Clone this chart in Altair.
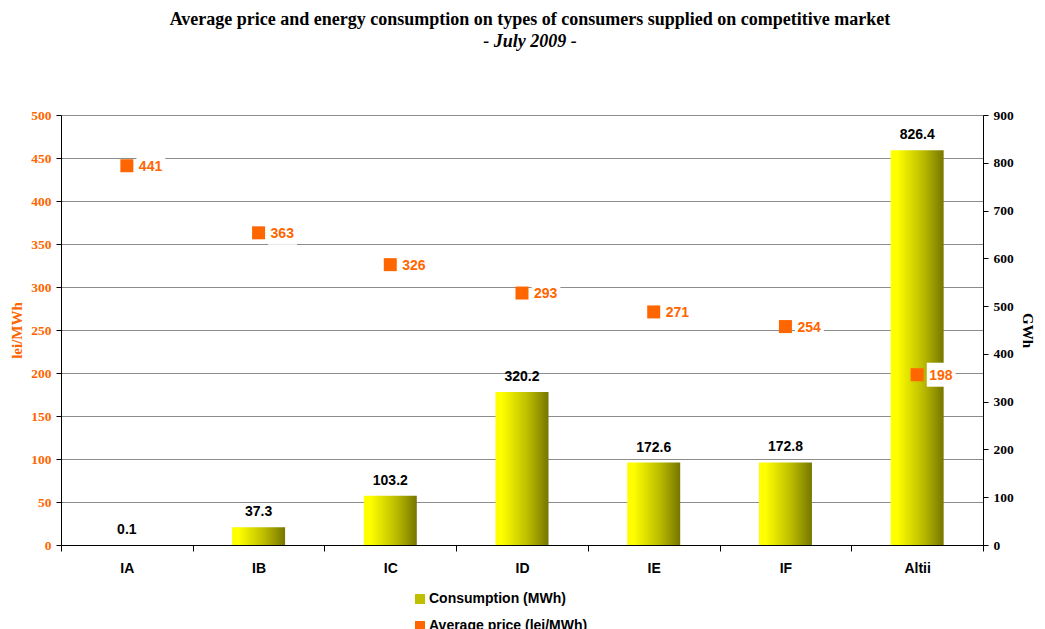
import altair as alt
import pandas as pd

categories = ["IA", "IB", "IC", "ID", "IE", "IF", "Altii"]
consumption = [0.1, 37.3, 103.2, 320.2, 172.6, 172.8, 826.4]
price = [441, 363, 326, 293, 271, 254, 198]
series_names = ["Consumption (MWh)", "Average price (lei/MWh)"]

df = pd.DataFrame({
    "cat": categories,
    "cons": consumption,
    "price": price,
    "series": [series_names[1]] * len(categories),
})

ORANGE = "#FF6600"
x_enc = alt.X("cat:N", sort=categories, title=None,
              scale=alt.Scale(paddingInner=0, paddingOuter=0),
              axis=alt.Axis(labelAngle=0, labelFont="Liberation Sans", labelFontWeight="bold",
                            labelFontSize=14, labelColor="black", domainColor="black",
                            tickColor="black", tickSize=6, tickBand="extent",
                            labelPadding=10, grid=False))

y_right = alt.Y("cons:Q", title="GWh",
                scale=alt.Scale(domain=[0, 900], nice=False),
                axis=alt.Axis(orient="right", values=list(range(0, 901, 100)), grid=False,
                              labelFont="Liberation Serif", labelFontWeight="bold", labelFontSize=13.5,
                              labelColor="black", titleFont="Liberation Serif", titleFontWeight="bold",
                              titleFontSize=15, titleColor="black", domainColor="black",
                              tickColor="black", tickSize=5, labelPadding=5, titlePadding=6))

gradient = alt.LinearGradient(
    gradient="linear",
    stops=[alt.GradientStop(offset=0, color="#FFFF00"),
           alt.GradientStop(offset=0.12, color="#FFFF00"),
           alt.GradientStop(offset=0.6, color="#BDBD00"),
           alt.GradientStop(offset=1, color="#767600")],
    x1=0, x2=1, y1=0, y2=0)

bars = alt.Chart(df).mark_bar(color=gradient, size=53).encode(x=x_enc, y=y_right)
bar_labels = alt.Chart(df).mark_text(
    font="Liberation Sans", fontWeight="bold", fontSize=14, color="black",
    baseline="bottom", dy=-8).encode(x=x_enc, y=y_right, text=alt.Text("cons:Q", format=".1f"))

y_left = alt.Y("price:Q", title="lei/MWh",
               scale=alt.Scale(domain=[0, 500], nice=False),
               axis=alt.Axis(orient="left", values=list(range(0, 501, 50)), grid=True,
                             gridColor="#8C8C8C", gridWidth=1,
                             labelFont="Liberation Serif", labelFontWeight="bold", labelFontSize=13.5,
                             labelColor=ORANGE, titleFont="Liberation Serif", titleFontWeight="bold",
                             titleFontSize=15, titleColor=ORANGE, domainColor="black",
                             tickColor="black", tickSize=5, labelPadding=5, titlePadding=6))

box = alt.Chart(df).mark_point(
    shape="M-1.2,-1L1.2,-1L1.2,1L-1.2,1Z", size=576, filled=True, fill="white",
    strokeWidth=0, opacity=1, xOffset=24).encode(x=x_enc, y=y_left)

points = alt.Chart(df).mark_point(shape="square", size=169, filled=True, opacity=1).encode(
    x=x_enc, y=y_left,
    color=alt.Color("series:N",
                    scale=alt.Scale(domain=series_names, range=["#BFBF00", ORANGE]),
                    legend=alt.Legend(title=None, orient="none", legendX=352, legendY=477,
                                      direction="vertical", symbolType="square", symbolSize=100,
                                      symbolStrokeWidth=0, labelFont="Liberation Sans",
                                      labelFontWeight="bold", labelFontSize=14, labelColor="black",
                                      rowPadding=13, labelOffset=2)))

price_labels = alt.Chart(df).mark_text(
    font="Liberation Sans", fontWeight="bold", fontSize=14, color=ORANGE,
    align="left", baseline="middle", dx=12, dy=1).encode(x=x_enc, y=y_left, text="price:Q")

chart = alt.layer(
    alt.layer(bars, bar_labels),
    alt.layer(box, points, price_labels),
).resolve_scale(y="independent").properties(
    width=922, height=430,
    autosize="none",
    padding={"left": 53, "top": 107, "right": 54, "bottom": 84},
    title=alt.Title(
        "Average price and energy consumption on types of consumers supplied on competitive market",
        subtitle="- July 2009 -",
        font="Liberation Serif", fontSize=18, fontWeight="bold", color="black",
        subtitleFont="Liberation Serif", subtitleFontSize=18, subtitleFontWeight="bold",
        subtitleFontStyle="italic", subtitleColor="black", subtitlePadding=4,
        anchor="middle", offset=57, dx=8),
).configure_view(stroke=None).configure(background="white")

chart.save("out.html", embed_options={"renderer": "svg", "actions": False})
